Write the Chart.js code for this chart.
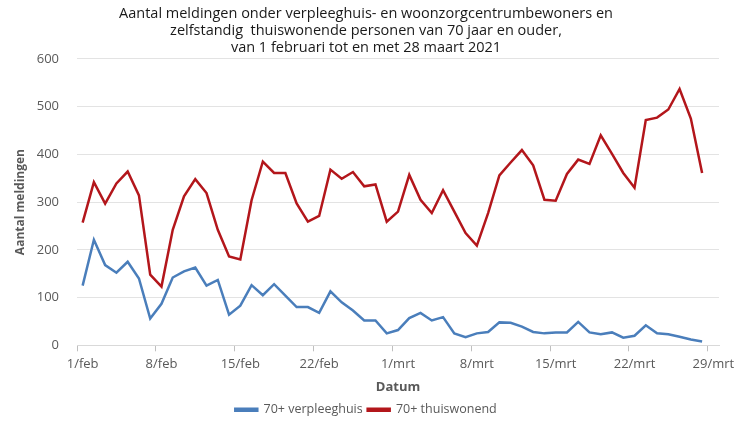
<!DOCTYPE html>
<html>
<head>
<meta charset="utf-8">
<script src="https://cdn.jsdelivr.net/npm/chart.js@4"></script>
<style>
  body { margin: 0; background: #fff; }
  #wrap { width: 740px; height: 426px; position: relative; }
</style>
</head>
<body>
<div id="wrap"><canvas id="graph"></canvas></div>
<script>
// one slot per day, 1 feb t/m 29 mrt (the last slot stays empty)
let dagen = [
  '1/feb','2/feb','3/feb','4/feb','5/feb','6/feb','7/feb','8/feb','9/feb','10/feb',
  '11/feb','12/feb','13/feb','14/feb','15/feb','16/feb','17/feb','18/feb','19/feb','20/feb',
  '21/feb','22/feb','23/feb','24/feb','25/feb','26/feb','27/feb','28/feb',
  '1/mrt','2/mrt','3/mrt','4/mrt','5/mrt','6/mrt','7/mrt','8/mrt','9/mrt','10/mrt',
  '11/mrt','12/mrt','13/mrt','14/mrt','15/mrt','16/mrt','17/mrt','18/mrt','19/mrt','20/mrt',
  '21/mrt','22/mrt','23/mrt','24/mrt','25/mrt','26/mrt','27/mrt','28/mrt','29/mrt'
]

let verpleeghuis = [
  125, 221, 168, 152, 175, 140, 56, 87, 142, 155,
  163, 125, 137, 64, 83, 126, 105, 128, 104, 80,
  80, 68, 113, 90, 73, 52, 52, 25,
  32, 57, 68, 52, 59, 25, 17, 25, 28, 48,
  47, 39, 28, 25, 27, 27, 49, 27, 23, 27,
  16, 20, 42, 25, 23, 18, 12, 8, null
]

let thuiswonend = [
  257, 342, 297, 339, 364, 314, 148, 123, 242, 312,
  348, 319, 242, 186, 180, 304, 385, 361, 361, 297,
  259, 271, 368, 349, 363, 333, 337, 259,
  280, 357, 305, 277, 325, 280, 235, 209, 277, 356,
  383, 409, 377, 305, 303, 359, 389, 380, 440, 401,
  361, 330, 472, 477, 494, 537, 475, 361, null
]

let yTicks = [0, 100, 200, 300, 400, 500, 600]

Chart.defaults.font.family = "'Open Sans', sans-serif"
Chart.defaults.color = "#595959"

new Chart(document.getElementById('graph'), {
  type: 'line',
  data: {
    labels: dagen,
    datasets: [
      {
        label: '70+ verpleeghuis',
        data: verpleeghuis,
        borderColor: '#4a7ebb',
        backgroundColor: '#4a7ebb',
        borderWidth: 2.5,
        pointRadius: 0,
        tension: 0
      },
      {
        label: '70+ thuiswonend',
        data: thuiswonend,
        borderColor: '#b3161b',
        backgroundColor: '#b3161b',
        borderWidth: 2.5,
        pointRadius: 0,
        tension: 0
      }
    ]
  },
  options: {
    responsive: true,
    maintainAspectRatio: false,
    animation: false,
    layout: { padding: { left: 13, right: 21, top: 2, bottom: 0 } },
    plugins: {
      title: {
        display: true,
        text: [
          'Aantal meldingen onder verpleeghuis- en woonzorgcentrumbewoners en',
          'zelfstandig  thuiswonende personen van 70 jaar en ouder,',
          'van 1 februari tot en met 28 maart 2021'
        ],
        color: '#1a1a1a',
        font: { size: 14.5, weight: 'normal', lineHeight: 1.17 },
        padding: { top: 3, bottom: 3 }
      },
      legend: {
        position: 'bottom',
        labels: {
          boxWidth: 22,
          boxHeight: 2,
          padding: 5,
          font: { size: 12.5 },
          color: '#595959'
        }
      },
      tooltip: { enabled: false }
    },
    scales: {
      x: {
        offset: true,
        grid: {
          offset: true,
          drawOnChartArea: false,
          tickLength: 6,
          tickColor: ctx => ctx.index % 7 === 0 ? '#bfbfbf' : 'transparent'
        },
        border: { color: '#d9d9d9' },
        ticks: {
          autoSkip: false,
          maxRotation: 0,
          font: { size: 13 },
          color: '#595959',
          padding: 5,
          callback: (v, i) => i % 7 === 0 ? dagen[i] : ''
        },
        title: {
          display: true,
          text: 'Datum',
          font: { size: 13, weight: 'bold' },
          color: '#595959',
          padding: { top: 3, bottom: 3 }
        }
      },
      y: {
        min: 0,
        max: 600,
        afterBuildTicks: axis => { axis.ticks = yTicks.map(v => ({ value: v })) },
        afterFit: axis => { axis.width = 64 },
        grid: { color: '#e3e3e3', drawTicks: false },
        border: { display: false },
        ticks: { font: { size: 13 }, color: '#595959', padding: 18 },
        title: {
          display: true,
          text: 'Aantal meldingen',
          font: { size: 12, weight: 'bold' },
          color: '#595959',
          padding: { top: 0, bottom: 0 }
        }
      }
    }
  }
});
</script>
</body>
</html>
